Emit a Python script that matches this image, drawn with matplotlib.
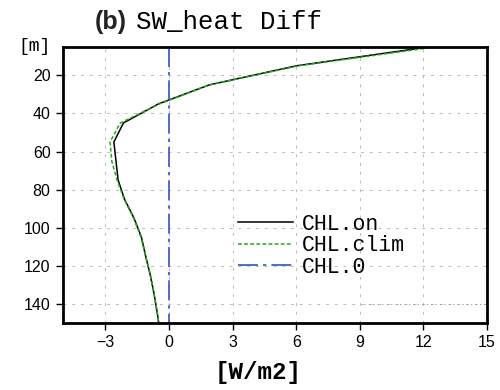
import matplotlib.pyplot as plt

# depth levels [m] and SW heat difference [W/m2]
depth = [5, 15, 25, 35, 45, 55, 65, 75, 85, 95, 105, 115, 125, 135, 145, 155]
chl_on = [12.3, 6.0, 1.9, -0.5, -2.15, -2.6, -2.5, -2.4, -2.1, -1.65,
          -1.3, -1.1, -0.88, -0.7, -0.55, -0.42]
chl_clim = [12.6, 6.1, 1.9, -0.45, -2.3, -2.78, -2.7, -2.45, -2.12, -1.67,
            -1.32, -1.1, -0.88, -0.7, -0.55, -0.42]
chl_0 = [0.0] * len(depth)

xticks = [-3, 0, 3, 6, 9, 12, 15]
yticks = [20, 40, 60, 80, 100, 120, 140]

mono = "Liberation Mono"
sans = "Liberation Sans"

fig = plt.figure(figsize=(5, 3.9), dpi=100)
ax = fig.add_axes([0.126, 0.172, 0.848, 0.708])

for x in xticks:
    ax.axvline(x, color="#bbbbbb", lw=0.7, ls=(0, (3, 6)), zorder=0)
for y in yticks:
    ax.axhline(y, color="#bbbbbb", lw=0.7, ls=(0, (3, 6)), zorder=0)
ax.axhline(140, xmin=0.71, color="#999999", lw=0.8, ls=(0, (1, 3)), zorder=0)

ax.plot(chl_on, depth, color="black", lw=1.1, label="CHL.on")
ax.plot(chl_clim, depth, color="#22aa22", lw=1.1, ls=(0, (2.5, 1.5)),
        label="CHL.clim")
ax.plot(chl_0, depth, color="#3355bb", lw=1.2, ls=(0, (12, 3, 2, 3)),
        label="CHL.0")

ax.set_xlim(-5, 15)
ax.set_ylim(150, 5)
ax.set_xticks(xticks)
ax.set_yticks(yticks)
ax.set_xticklabels(["\u22123", "0", "3", "6", "9", "12", "15"])
ax.tick_params(direction="out", length=5, width=1, labelsize=11.5,
               pad=4)
for lab in ax.get_xticklabels() + ax.get_yticklabels():
    lab.set_fontfamily(sans)
for sp in ax.spines.values():
    sp.set_linewidth(2)

ax.text(-0.03, 1.0, "[m]", transform=ax.transAxes, ha="right",
        va="center", fontsize=13, family=mono)
fig.text(258 / 500, 1 - 373 / 390, "[W/m2]", ha="center", va="center",
         fontsize=17.5, family=mono, fontweight="bold")

fig.text(95 / 500, 1 - 22 / 390, "(b)", ha="left", va="center",
         fontsize=18, family=sans, fontweight="bold", color="#222222")
fig.text(136 / 500, 1 - 22 / 390, "SW_heat Diff", ha="left", va="center",
         fontsize=18.5, family=mono)

leg = ax.legend(loc="upper left", bbox_to_anchor=(0.413, 0.395), frameon=False,
                prop={"family": mono, "size": 15.5}, handlelength=2.55,
                handletextpad=0.42, labelspacing=0.02, borderaxespad=0,
                borderpad=0)

fig.savefig("out.png", dpi=100)
